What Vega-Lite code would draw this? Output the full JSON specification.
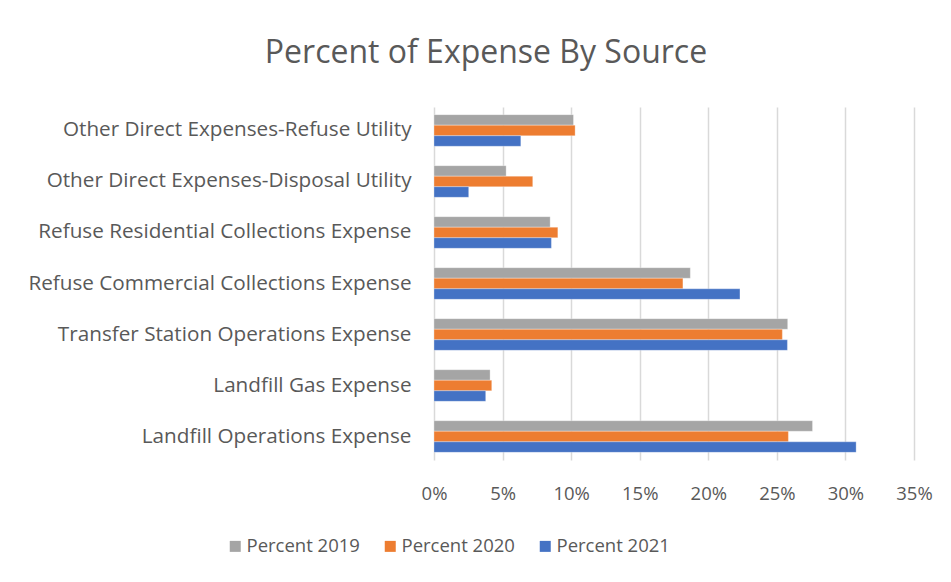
{
  "$schema": "https://vega.github.io/schema/vega-lite/v6.json",
  "width": 480,
  "height": 353,
  "autosize": {"type": "none"},
  "padding": {"left": 434, "top": 107, "right": 37, "bottom": 122},
  "background": "white",
  "title": {
    "text": "Percent of Expense By Source",
    "font": "Open Sans",
    "fontSize": 32,
    "fontWeight": "normal",
    "color": "#595959",
    "anchor": "middle",
    "frame": "group",
    "dx": -188,
    "baseline": "alphabetic",
    "offset": 12
  },
  "data": {
    "values": [
      {"source": "Other Direct Expenses-Refuse Utility", "series": "Percent 2019", "value": 0.1017},
      {"source": "Other Direct Expenses-Refuse Utility", "series": "Percent 2020", "value": 0.1029},
      {"source": "Other Direct Expenses-Refuse Utility", "series": "Percent  2021", "value": 0.0633},
      {"source": "Other Direct Expenses-Disposal Utility", "series": "Percent 2019", "value": 0.0526},
      {"source": "Other Direct Expenses-Disposal Utility", "series": "Percent 2020", "value": 0.072},
      {"source": "Other Direct Expenses-Disposal Utility", "series": "Percent  2021", "value": 0.0253},
      {"source": "Refuse Residential Collections Expense", "series": "Percent 2019", "value": 0.0847},
      {"source": "Refuse Residential Collections Expense", "series": "Percent 2020", "value": 0.0903},
      {"source": "Refuse Residential Collections Expense", "series": "Percent  2021", "value": 0.0856},
      {"source": "Refuse Commercial Collections Expense", "series": "Percent 2019", "value": 0.1869},
      {"source": "Refuse Commercial Collections Expense", "series": "Percent 2020", "value": 0.1815},
      {"source": "Refuse Commercial Collections Expense", "series": "Percent  2021", "value": 0.2231},
      {"source": "Transfer Station Operations Expense", "series": "Percent 2019", "value": 0.2579},
      {"source": "Transfer Station Operations Expense", "series": "Percent 2020", "value": 0.254},
      {"source": "Transfer Station Operations Expense", "series": "Percent  2021", "value": 0.2577},
      {"source": "Landfill Gas Expense", "series": "Percent 2019", "value": 0.0409},
      {"source": "Landfill Gas Expense", "series": "Percent 2020", "value": 0.0421},
      {"source": "Landfill Gas Expense", "series": "Percent  2021", "value": 0.0377},
      {"source": "Landfill Operations Expense", "series": "Percent 2019", "value": 0.276},
      {"source": "Landfill Operations Expense", "series": "Percent 2020", "value": 0.2584},
      {"source": "Landfill Operations Expense", "series": "Percent  2021", "value": 0.3078}
    ]
  },
  "mark": {"type": "bar", "stroke": "white", "strokeWidth": 0.5, "strokeOpacity": 0.6},
  "encoding": {
    "y": {
      "field": "source",
      "type": "nominal",
      "sort": [
        "Other Direct Expenses-Refuse Utility",
        "Other Direct Expenses-Disposal Utility",
        "Refuse Residential Collections Expense",
        "Refuse Commercial Collections Expense",
        "Transfer Station Operations Expense",
        "Landfill Gas Expense",
        "Landfill Operations Expense"
      ],
      "scale": {"paddingInner": 0.38, "paddingOuter": 0.15},
      "axis": {
        "title": null,
        "domain": false,
        "ticks": false,
        "labelPadding": 23,
        "labelFont": "Open Sans",
        "labelFontSize": 20.7,
        "labelColor": "#595959",
        "labelLimit": 0
      }
    },
    "yOffset": {
      "field": "series",
      "type": "nominal",
      "sort": ["Percent 2019", "Percent 2020", "Percent  2021"],
      "scale": {"paddingInner": 0, "paddingOuter": 0}
    },
    "x": {
      "field": "value",
      "type": "quantitative",
      "scale": {"domain": [0, 0.35], "nice": false},
      "axis": {
        "title": null,
        "format": ".0%",
        "values": [0, 0.05, 0.1, 0.15, 0.2, 0.25, 0.3, 0.35],
        "domain": false,
        "ticks": false,
        "grid": true,
        "gridColor": "#d9d9d9",
        "gridWidth": 1.5,
        "labelPadding": 24,
        "labelFont": "Open Sans",
        "labelFontSize": 18.5,
        "labelColor": "#595959",
        "labelFlush": false
      }
    },
    "color": {
      "field": "series",
      "type": "nominal",
      "sort": ["Percent 2019", "Percent 2020", "Percent  2021"],
      "scale": {"range": ["#a5a5a5", "#ed7d31", "#4472c4"]},
      "legend": {
        "title": null,
        "orient": "none",
        "direction": "horizontal",
        "legendX": -208,
        "legendY": 430,
        "symbolType": "square",
        "symbolSize": 121,
        "symbolStrokeWidth": 0,
        "symbolOpacity": 1,
        "labelFont": "Open Sans",
        "labelFontSize": 18.5,
        "labelColor": "#595959",
        "labelOffset": 2,
        "columnPadding": 21,
        "labelLimit": 0
      }
    }
  },
  "config": {"view": {"stroke": null}}
}
